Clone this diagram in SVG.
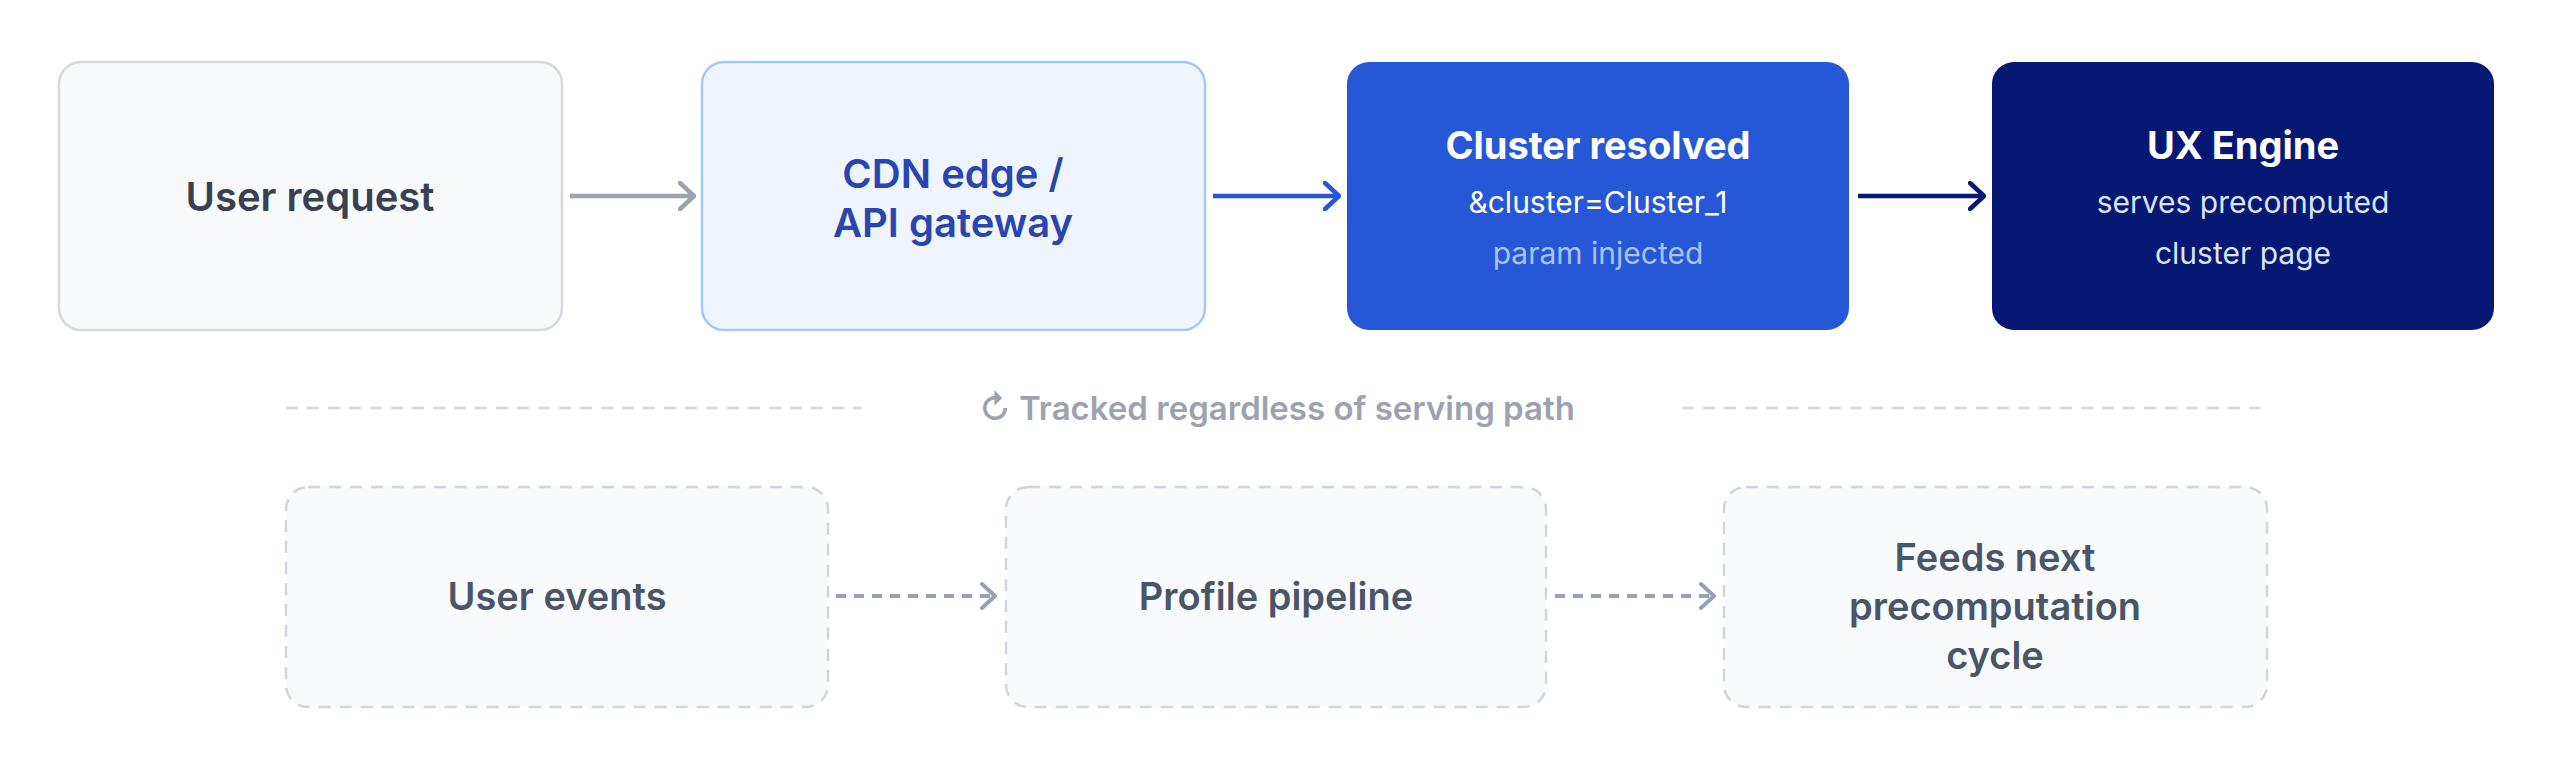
<svg xmlns="http://www.w3.org/2000/svg" width="2560" height="782" viewBox="0 0 2560 782">
<style>
text{font-family:Inter,"Noto Sans",sans-serif;text-anchor:middle;dominant-baseline:central}
.t{font-weight:700;font-size:38px}
.s{font-size:30px}
.b{font-weight:600;font-size:38px;fill:#4b5568}
.bot{fill:#f8fafc;stroke:#cfd6e0;stroke-width:2.5;stroke-dasharray:12 9}
</style>
<defs>
<marker id="ag" viewBox="0 0 18 30" refX="16" refY="15" markerWidth="18" markerHeight="30" markerUnits="userSpaceOnUse" orient="auto"><path d="M2 2 L16 15 L2 28" fill="none" stroke="#9ca3af" stroke-width="4.5" stroke-linecap="round" stroke-linejoin="round"/></marker>
<marker id="ab" viewBox="0 0 18 30" refX="16" refY="15" markerWidth="18" markerHeight="30" markerUnits="userSpaceOnUse" orient="auto"><path d="M2 2 L16 15 L2 28" fill="none" stroke="#2557d6" stroke-width="4.5" stroke-linecap="round" stroke-linejoin="round"/></marker>
<marker id="an" viewBox="0 0 18 30" refX="16" refY="15" markerWidth="18" markerHeight="30" markerUnits="userSpaceOnUse" orient="auto"><path d="M2 2 L16 15 L2 28" fill="none" stroke="#061874" stroke-width="4.5" stroke-linecap="round" stroke-linejoin="round"/></marker>
<marker id="as" viewBox="0 0 18 30" refX="16" refY="15" markerWidth="18" markerHeight="30" markerUnits="userSpaceOnUse" orient="auto"><path d="M2 3 L15 15 L2 27" fill="none" stroke="#97a1b5" stroke-width="4" stroke-linecap="round" stroke-linejoin="round"/></marker>
</defs>
<rect width="2560" height="782" fill="#fff"/>
<g id="user-request"><rect x="59" y="62" width="503" height="268" rx="22" fill="#f8f9fb" stroke="#d5d8dd" stroke-width="2.5"/><text x="310" y="196" class="t" style="font-weight:600;font-size:40px" fill="#374151">User request</text></g>
<g id="cdn"><rect x="702" y="62" width="503" height="268" rx="22" fill="#eff5fe" stroke="#a6c8f6" stroke-width="2.5"/><text x="953" y="173" class="t" style="font-weight:600;font-size:40px" fill="#2a44b0">CDN edge /</text><text x="953" y="222" class="t" style="font-weight:600;font-size:40px" fill="#2a44b0">API gateway</text></g>
<g id="cluster"><rect x="1347" y="62" width="502" height="268" rx="22" fill="#2557d6"/><text x="1598" y="145" class="t" fill="#fff">Cluster resolved</text><text x="1598" y="202" class="s" fill="#fff">&amp;cluster=Cluster_1</text><text x="1598" y="253" class="s" fill="#a9c3f5">param injected</text></g>
<g id="ux"><rect x="1992" y="62" width="502" height="268" rx="22" fill="#061874"/><text x="2243" y="145" class="t" fill="#fff">UX Engine</text><text x="2243" y="202" class="s" fill="#dbe3f5">serves precomputed</text><text x="2243" y="253" class="s" fill="#dbe3f5">cluster page</text></g>
<g id="divider"><line x1="286" y1="408" x2="862" y2="408" stroke="#d5d9e0" stroke-width="2.5" stroke-dasharray="12 9"/><line x1="1682" y1="408" x2="2260" y2="408" stroke="#d5d9e0" stroke-width="2.5" stroke-dasharray="12 9"/><text x="1277" y="408" style="font-weight:600;font-size:33px" fill="#9ca3af">↻ Tracked regardless of serving path</text></g>
<g id="user-events"><rect x="286" y="487" width="542" height="220" rx="22" class="bot"/><text x="557" y="596" class="b">User events</text></g>
<g id="profile"><rect x="1006" y="487" width="540" height="220" rx="22" class="bot"/><text x="1276" y="596" class="b">Profile pipeline</text></g>
<g id="feeds"><rect x="1724" y="487" width="543" height="220" rx="22" class="bot"/><text x="1995" y="557" class="b">Feeds next</text><text x="1995" y="606" class="b">precomputation</text><text x="1995" y="655" class="b">cycle</text></g>
<g id="connectors">
<line x1="570" y1="196" x2="694" y2="196" stroke="#9ca3af" stroke-width="4.5" marker-end="url(#ag)"/>
<line x1="1213" y1="196" x2="1339" y2="196" stroke="#2557d6" stroke-width="4.5" marker-end="url(#ab)"/>
<line x1="1858" y1="196" x2="1984" y2="196" stroke="#061874" stroke-width="4.5" marker-end="url(#an)"/>
<line x1="836" y1="596" x2="996" y2="596" stroke="#97a1b5" stroke-width="4" stroke-dasharray="10 8" marker-end="url(#as)"/>
<line x1="1555" y1="596" x2="1715" y2="596" stroke="#97a1b5" stroke-width="4" stroke-dasharray="10 8" marker-end="url(#as)"/>
</g>
</svg>
